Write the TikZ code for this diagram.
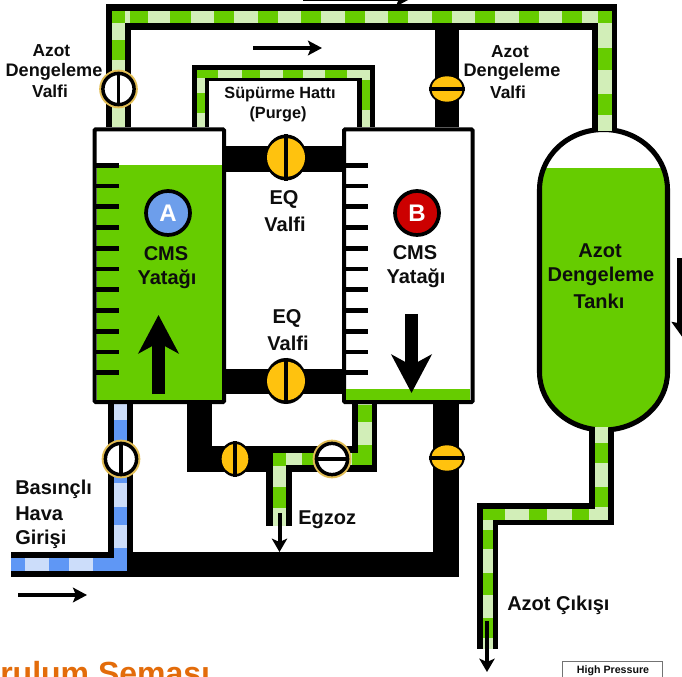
\documentclass[tikz,border=0pt]{standalone}
\usepackage{fontspec}
\setmainfont{Liberation Sans}
\usetikzlibrary{arrows.meta,shapes.geometric}
\definecolor{pgreen}{HTML}{66CC00}
\definecolor{plight}{HTML}{D2EEB8}
\definecolor{pblue}{HTML}{5F97F5}
\definecolor{pblight}{HTML}{CCDDFA}
\definecolor{vyellow}{HTML}{FFC20E}
\definecolor{vgold}{HTML}{E3BE55}
\definecolor{tangle}{HTML}{E36C0A}
\tikzset{
  x=0.75pt,y=-0.75pt,
  lbl/.style={font=\bfseries\fontsize{#1}{#1}\selectfont,inner sep=0pt,text=black!95},
  lbl/.default=13pt,
  flow/.style={-{Stealth[length=10.5pt,width=11pt,inset=2.2pt]},line width=3.2pt,black},
  flowdown/.style={-{Stealth[length=10pt,width=11.5pt,inset=2.5pt]},line width=3pt,black},
  bigflow/.style={-{Stealth[length=28.7pt,width=30pt,inset=8pt]},line width=9.8pt,black},
  edgeflow/.style={-{Stealth[length=12pt,width=17pt,inset=1.5pt]},line width=9pt,black},
  bedbox/.style={draw=black,line width=3pt,fill=white,rounded corners=0.8pt},
  tick/.style={black,line width=3.6pt},
  ringout/.style={circle,fill=vgold,minimum size=29pt,inner sep=0pt},
  ringin/.style={circle,draw=black,fill=white,line width=2.6pt,minimum size=23.4pt,inner sep=0pt},
  vbar/.style={black,line width=2.9pt},
  badge/.style={circle,draw=black,line width=2.8pt,minimum size=33pt,inner sep=0pt,font=\bfseries\fontsize{18pt}{18pt}\selectfont,text=white},
}
% name, x, y, bar direction (v or h)
\newcommand\ringvalve[4]{%
  \node[ringout] at (#2,#3) {};
  \node[ringin] (#1) at (#2,#3) {};
  \if#4v\draw[vbar] (#1.north) -- (#1.south);\else\draw[vbar] (#1.west) -- (#1.east);\fi}
% name, x, y, outer w, outer h, inner w, inner h (pt), bar direction
\newcommand\yvalve[8]{%
  \node[ellipse,fill=black,minimum width=#4pt,minimum height=#5pt,inner sep=0pt] (#1) at (#2,#3) {};
  \node[ellipse,fill=vyellow,minimum width=#6pt,minimum height=#7pt,inner sep=0pt] at (#2,#3) {};
  \if#8v\draw[vbar] (#1.north) -- (#1.south);\else\draw[vbar] (#1.west) -- (#1.east);\fi}
\begin{document}
\begin{tikzpicture}
\useasboundingbox (0,0) rectangle (682,677);
\clip (0,0) rectangle (682,677);
\fill[white] (0,0) rectangle (682,677);
% black pipe bodies
\foreach \a/\b/\c/\d in {
  106/4/617/30, 106/4/131/127, 592/4/617/135,
  192/65/375/81, 192/65/209/127, 357/65/375/127,
  435/30/459/127,
  226/146/342/172, 226/369/342/394,
  187/403/212/472, 187/446/377/472, 352/403/377/472, 266/446/292/526,
  11/552/459/577, 108/403/133/577, 433/403/459/577,
  589/425/614/525, 477/503/614/525, 477/503/498/649}
  \fill[black] (\a,\b) rectangle (\c,\d);
% tank
\path[save path=\tankpath] (539.5,372) -- (539.5,190) .. controls (539.5,156) and (568,129.5) .. (603.5,129.5)
  .. controls (639,129.5) and (667.5,156) .. (667.5,190) -- (667.5,372)
  .. controls (667.5,404) and (639,430) .. (603.5,430) .. controls (568,430) and (539.5,404) .. (539.5,372) -- cycle;
\fill[white,use path=\tankpath];
\begin{scope}
  \clip[use path=\tankpath];
  \fill[pgreen] (530,168) rectangle (680,440);
\end{scope}
\draw[black,line width=3.8pt,use path=\tankpath];
% light green pipe cores
\foreach \a/\b/\c/\d in {
  112.3/11/611.5/23.4, 112.3/11/125/127, 598.3/11/611.5/131,
  197/70/370/78, 197/70/204.5/127, 362/70/370/127,
  358/403/372/465, 273/453/372/465, 273/453/286/526,
  595/427/608/520, 483/509/608/520, 483/509/493/649}
  \fill[plight] (\a,\b) rectangle (\c,\d);
% green blocks
\foreach \a/\b/\c/\d in {
  112.3/11/125/23.4, 112.3/40/125/60, 112.3/83/125/103,
  130/11/148/23.4, 170/11/191/23.4, 214/11/234/23.4, 257.5/11/277.5/23.4,
  301/11/321/23.4, 344.5/11/364.5/23.4, 388/11/408/23.4, 431.5/11/451.5/23.4,
  475/11/495/23.4, 518.5/11/538.5/23.4, 562/11/582/23.4, 598.3/11/611.5/23.4,
  598.3/48/611.5/70, 598.3/94/611.5/115,
  197/70/218/78, 242/70/260/78, 283/70/303/78, 325/70/347/78,
  197/93/204.5/113, 362/80/370/110,
  358/405/372/422, 358/445/372/465, 352/453/372/465,
  273/453/286/466, 302/453/315/465, 273/487/286/508,
  595/443/608/463, 595/487/608/507,
  572/509/589/520, 529/509/547/520, 483/509/505/520,
  483/530/493/549, 483/573/493/595, 483/618/493/638}
  \fill[pgreen] (\a,\b) rectangle (\c,\d);
% blue air line
\foreach \a/\b/\c/\d in {113.5/403/127/571, 11/558/127/571}
  \fill[pblight] (\a,\b) rectangle (\c,\d);
\foreach \a/\b/\c/\d in {113.5/420/127/483, 113.5/507/127/525, 113.5/548/127/571,
  11/558/25/571, 49/558/69/571, 93/558/127/571}
  \fill[pblue] (\a,\b) rectangle (\c,\d);
% beds
\draw[bedbox] (94.7,129.3) rectangle (224,402);
\fill[pgreen] (96.7,165) rectangle (221.9,400);
\draw[bedbox] (344,129.3) rectangle (472.5,402);
\fill[pgreen] (346,389) rectangle (470.4,400);
\foreach \y in {165.7,186,206.7,227.7,248.3,269,289.7,310.3,331.3,352,372.3} {
  \draw[tick] (96,\y) -- (119,\y);
  \draw[tick] (345,\y) -- (368,\y);
}
% valves
\ringvalve{vNitroA}{118.5}{89}{v}
\ringvalve{vFeed}{121}{459}{v}
\ringvalve{vVent}{332}{459}{h}
\yvalve{vNitroB}{447}{89}{26.5}{22}{23.5}{19}{h}
\yvalve{vEqTop}{286}{157.5}{31.5}{34.5}{28.5}{29}{v}
\yvalve{vEqBot}{286}{381}{31.5}{34.5}{28.5}{29}{v}
\yvalve{vExhA}{235}{459}{23}{26.5}{20}{22.5}{v}
\yvalve{vExhB}{447}{458}{26.5}{22}{23.5}{19}{h}
% badges
\node[badge,fill={rgb,255:red,109;green,158;blue,235}] (badgeA) at (168,213) {A};
\node[badge,fill={rgb,255:red,204;green,0;blue,0}] (badgeB) at (417,213) {B};
% flow arrows
\coordinate (fA1) at (303,-1); \coordinate (fA2) at (410,-1);
\coordinate (fB1) at (253,48); \coordinate (fB2) at (322,48);
\coordinate (fC1) at (18,595); \coordinate (fC2) at (87,595);
\coordinate (fD1) at (279.5,513); \coordinate (fD2) at (279.5,552);
\coordinate (fE1) at (487,621); \coordinate (fE2) at (487,672);
\coordinate (fF1) at (158.5,394); \coordinate (fF2) at (158.5,315);
\coordinate (fG1) at (411.5,314); \coordinate (fG2) at (411.5,393);
\coordinate (fH1) at (683,258); \coordinate (fH2) at (683,338);
\draw[flow] (fA1) -- (fA2);
\draw[flow] (fB1) -- (fB2);
\draw[flow] (fC1) -- (fC2);
\draw[flowdown] (fD1) -- (fD2);
\draw[flowdown] (fE1) -- (fE2);
\draw[bigflow] (fF1) -- (fF2);
\draw[bigflow] (fG1) -- (fG2);
\draw[edgeflow] (fH1) -- (fH2);
% labels
\node[lbl] (t1) at (51.5,51) {Azot};
\node[lbl=13.6pt] (t2) at (54,71.5) {Dengeleme};
\node[lbl] (t3) at (50,91) {Valfi};
\node[lbl] (t4) at (510,52) {Azot};
\node[lbl=13.6pt] (t5) at (512,72) {Dengeleme};
\node[lbl] (t6) at (508,92) {Valfi};
\node[lbl=12.2pt] (t7) at (280,95) {Süpürme Hattı};
\node[lbl=12.2pt] (t8) at (278,114) {(Purge)};
\node[lbl=15pt] (t9) at (284,199) {EQ};
\node[lbl=15pt] (t10) at (285,224) {Valfi};
\node[lbl=15pt] (t11) at (287,318) {EQ};
\node[lbl=15pt] (t12) at (288,343) {Valfi};
\node[lbl=15pt] (t13) at (166,254) {CMS};
\node[lbl=15pt] (t14) at (167,279) {Yatağı};
\node[lbl=15pt] (t15) at (415,253) {CMS};
\node[lbl=15pt] (t16) at (416,278) {Yatağı};
\node[lbl=15pt] (t17) at (600,251) {Azot};
\node[lbl=15pt] (t18) at (601,276) {Dengeleme};
\node[lbl=15pt] (t19) at (599,301) {Tankı};
\node[lbl=15pt,anchor=west] (t20) at (15,489) {Basınçlı};
\node[lbl=15pt,anchor=west] (t21) at (15,514) {Hava};
\node[lbl=15pt,anchor=west] (t22) at (15,539) {Girişi};
\node[lbl=15pt,anchor=west] (t23) at (298,520) {Egzoz};
\node[lbl=15pt,anchor=west] (t24) at (507,605) {Azot Çıkışı};
\node[font=\bfseries\fontsize{24pt}{24pt}\selectfont,text=tangle,inner sep=0pt,anchor=base west] (t25) at (0,684) {rulum Şeması};
\node[draw=black!55,line width=0.9pt,minimum width=75pt,minimum height=24pt,inner sep=0pt,anchor=north west] (legend) at (562,661) {};
\node[lbl=8pt] (t26) at (613,671) {High Pressure};
\end{tikzpicture}
\end{document}
